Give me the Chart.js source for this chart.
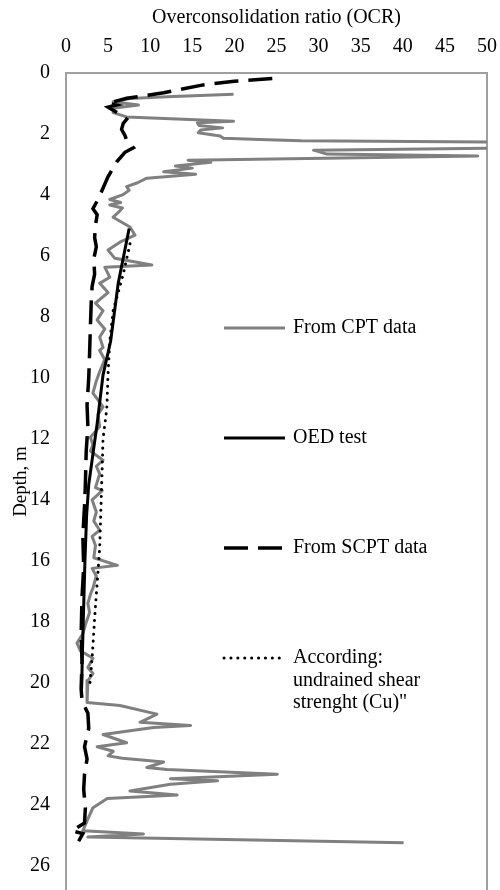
<!DOCTYPE html>
<html><head><meta charset="utf-8">
<script src="https://cdn.jsdelivr.net/npm/chart.js@4/dist/chart.umd.min.js"></script>
<style>html,body{margin:0;padding:0;background:#fff;overflow:hidden}</style>
</head><body>
<canvas id="c" width="500" height="890"></canvas>
<script>
const xTitle = 'Overconsolidation ratio (OCR)';
const yTitle = 'Depth, m';
const ocrTicks = [0, 5, 10, 15, 20, 25, 30, 35, 40, 45, 50];
const depthTicks = [0, 2, 4, 6, 8, 10, 12, 14, 16, 18, 20, 22, 24, 26];
const seriesNames = ['From CPT data', 'OED test', 'From SCPT data', ['According:', 'undrained shear', 'strenght (Cu)"']];

const cptOCR = [19.9, 12.0, 7.6, 5.6, 8.6, 5.8, 5.6, 7.2, 19.9, 15.6, 15.8, 18.6, 16.0, 15.7, 18.3, 18.7, 23.0, 27.9, 55, 55, 29.4, 31.0, 48.9, 14.5, 17.2, 13.0, 15.0, 11.6, 15.4, 9.6, 8.5, 7.2, 7.5, 6.7, 5.2, 6.5, 5.2, 6.7, 6.4, 5.6, 7.6, 8.2, 6.4, 5.0, 5.8, 10.2, 4.6, 5.2, 4.0, 5.0, 3.5, 4.4, 3.7, 4.6, 4.0, 4.4, 4.0, 4.6, 4.0, 3.6, 3.2, 4.4, 3.8, 4.0, 2.9, 3.2, 2.9, 4.4, 3.6, 4.0, 3.5, 4.3, 3.1, 3.6, 3.3, 4.0, 3.1, 3.5, 3.3, 6.1, 3.1, 3.6, 3.2, 2.9, 2.6, 2.8, 2.3, 2.0, 1.3, 1.7, 3.2, 2.6, 3.2, 2.6, 2.5, 2.5, 6.4, 10.8, 8.8, 14.8, 10.4, 4.4, 7.2, 3.7, 5.6, 5.0, 6.7, 11.6, 9.6, 12.0, 25.1, 12.4, 18.0, 12.4, 7.6, 13.2, 4.9, 3.2, 2.5, 2.0, 9.2, 2.6, 40.1];
const cptDepth = [0.70, 0.78, 0.84, 0.94, 1.05, 1.15, 1.30, 1.44, 1.58, 1.63, 1.72, 1.80, 1.87, 1.96, 2.07, 2.14, 2.18, 2.22, 2.27, 2.45, 2.53, 2.66, 2.72, 2.86, 2.93, 3.05, 3.12, 3.24, 3.32, 3.45, 3.60, 3.73, 3.85, 4.00, 4.15, 4.25, 4.33, 4.43, 4.52, 4.73, 5.05, 5.32, 5.55, 5.81, 6.08, 6.30, 6.37, 6.70, 6.90, 7.20, 7.55, 7.80, 8.10, 8.40, 8.66, 9.00, 9.10, 9.40, 9.80, 10.10, 10.50, 10.95, 11.20, 11.60, 11.95, 12.20, 12.40, 12.70, 12.90, 13.15, 13.60, 13.70, 14.00, 14.40, 14.70, 15.00, 15.20, 15.50, 15.90, 16.15, 16.25, 16.50, 16.90, 17.10, 17.40, 17.70, 18.10, 18.40, 18.70, 18.95, 19.20, 19.50, 19.70, 19.93, 20.26, 20.65, 20.75, 21.03, 21.30, 21.40, 21.47, 21.70, 21.97, 22.10, 22.25, 22.40, 22.48, 22.60, 22.78, 22.85, 23.00, 23.15, 23.22, 23.33, 23.55, 23.68, 23.80, 24.10, 24.53, 24.86, 24.96, 25.06, 25.25];

const oedOCR = [7.5, 6.2, 5.3, 4.4, 3.7, 3.2, 2.7, 2.45, 2.25, 2.1, 1.95, 1.85];
const oedDepth = [5.1, 6.9, 8.8, 9.9, 11.5, 12.5, 13.5, 14.5, 16.0, 17.5, 19.0, 20.2];

const scptOCR = [24.5, 20.0, 16.3, 11.6, 7.2, 5.0, 6.0, 5.0, 5.6, 6.4, 7.2, 6.8, 6.6, 7.0, 7.2, 8.0, 7.0, 6.0, 5.0, 4.3, 3.7, 3.2, 3.7, 3.5, 3.4, 3.6, 3.3, 3.4, 3.1, 3.0, 2.9, 2.8, 2.7, 2.5, 2.6, 2.4, 2.3, 2.2, 2.0, 2.1, 1.9, 1.8, 1.9, 1.8, 1.9, 2.6, 2.7, 2.2, 2.5, 2.2, 2.1, 2.3, 2.2, 0.7, 2.0, 1.5];
const scptDepth = [0.18, 0.27, 0.39, 0.65, 0.83, 0.99, 1.05, 1.12, 1.22, 1.35, 1.52, 1.65, 1.85, 2.05, 2.20, 2.45, 2.60, 2.92, 3.40, 3.84, 4.20, 4.45, 4.65, 5.00, 5.40, 5.70, 6.10, 6.60, 7.00, 7.50, 8.30, 9.20, 10.0, 10.9, 11.6, 12.4, 13.5, 14.2, 15.2, 16.2, 17.2, 18.4, 19.3, 20.2, 20.6, 21.0, 21.5, 22.1, 22.5, 23.0, 23.5, 24.1, 24.6, 24.86, 24.95, 25.2];

const cuOCR = [7.6, 6.8, 5.6, 5.2, 5.0, 4.85, 4.4, 4.25, 4.0, 3.45, 3.1, 2.85];
const cuDepth = [5.6, 6.6, 7.8, 8.8, 9.85, 11.0, 12.0, 13.4, 15.6, 17.7, 19.2, 20.0];

const pts = (xs, ys) => xs.map((v, i) => ({x: v, y: ys[i]}));
const serif = 'Liberation Serif';
Chart.defaults.font.family = serif;
Chart.defaults.color = '#000';

const insideLegend = {
  id: 'insideLegend',
  afterDatasetsDraw(chart) {
    const ctx = chart.ctx;
    const rows = [328, 438, 548, 658];
    ctx.save();
    chart.data.datasets.forEach((ds, i) => {
      const y = rows[i];
      ctx.beginPath();
      ctx.strokeStyle = ds.borderColor;
      ctx.lineWidth = ds.borderWidth;
      ctx.setLineDash(ds.borderDash || []);
      ctx.lineCap = ds.borderCapStyle || 'butt';
      ctx.moveTo(224, y); ctx.lineTo(285, y); ctx.stroke();
      ctx.setLineDash([]);
      ctx.fillStyle = '#000';
      ctx.font = '20px "' + serif + '"';
      ctx.textBaseline = 'middle';
      ctx.textAlign = 'left';
      const lbl = [].concat(seriesNames[i]);
      lbl.forEach((t, k) => ctx.fillText(t, 293, y + k * 22.5));
    });
    ctx.restore();
  }
};

const noPad = s => { s.paddingTop = 0; s.paddingBottom = 0; s.paddingLeft = 0; s.paddingRight = 0; };

new Chart(document.getElementById('c'), {
  type: 'scatter',
  data: {
    datasets: [
      {label: 'From CPT data', data: pts(cptOCR, cptDepth), showLine: true, borderColor: '#808080', borderWidth: 3, pointRadius: 0, order: 10, borderJoinStyle: 'round'},
      {label: 'OED test', data: pts(oedOCR, oedDepth), showLine: true, borderColor: '#000', borderWidth: 3, pointRadius: 0, order: 1},
      {label: 'From SCPT data', data: pts(scptOCR, scptDepth), showLine: true, borderColor: '#000', borderWidth: 3.5, borderDash: [24, 10], pointRadius: 0, order: 2},
      {label: 'Cu', data: pts(cuOCR, cuDepth), showLine: true, borderColor: '#000', borderWidth: 3, borderDash: [0.1, 6.8], borderCapStyle: 'round', pointRadius: 0, order: 3}
    ]
  },
  options: {
    responsive: false,
    animation: false,
    layout: {padding: {right: 13, top: 0, bottom: 0, left: 0}},
    plugins: {legend: {display: false}, tooltip: {enabled: false}},
    scales: {
      x: {
        type: 'linear', position: 'top', min: 0, max: 50,
        afterBuildTicks: s => { s.ticks = ocrTicks.map(v => ({value: v})); },
        afterFit: s => { s.height = 73; noPad(s); },
        grid: {display: false, drawTicks: false},
        border: {display: true, color: '#a0a0a0', width: 2},
        ticks: {font: {size: 20, family: serif}, padding: 14, color: '#000', maxRotation: 0},
        title: {display: true, text: xTitle, font: {size: 20, family: serif}, padding: {top: 6}, color: '#000'}
      },
      y: {
        type: 'linear', position: 'left', reverse: true, min: 0, max: 26.8,
        afterBuildTicks: s => { s.ticks = depthTicks.map(v => ({value: v})); },
        afterFit: s => { s.width = 66; noPad(s); },
        grid: {display: false, drawTicks: false},
        border: {display: true, color: '#a0a0a0', width: 2},
        ticks: {font: {size: 20, family: serif}, padding: 16, color: '#000'},
        title: {display: true, text: yTitle, font: {size: 19, family: serif}, padding: {top: 10}, color: '#000'}
      },
      y2: {
        type: 'linear', position: 'right', reverse: true, min: 0, max: 26.8,
        afterFit: s => { s.width = 0; noPad(s); },
        grid: {display: false, drawTicks: false},
        border: {display: true, color: '#a0a0a0', width: 2},
        ticks: {display: false}
      }
    }
  },
  plugins: [insideLegend]
});
</script>
</body></html>
